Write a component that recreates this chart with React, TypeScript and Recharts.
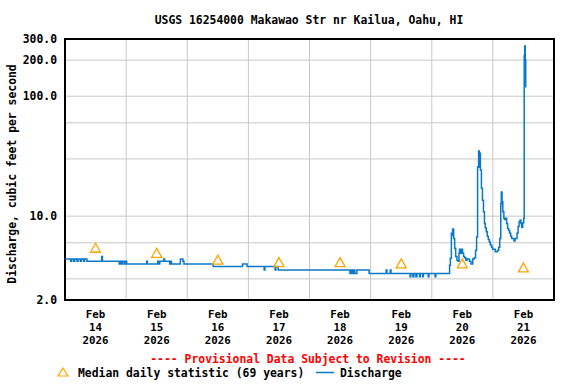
import {
  CartesianGrid,
  ComposedChart,
  Line,
  ReferenceArea,
  XAxis,
  YAxis,
} from 'recharts';

// hours after Feb 14 00:00 where the 15-min discharge changes, and the value (cfs) from that time
const hours = [
  0, 2.2, 2.6, 3.4, 3.8, 4.7, 5.1, 6.0, 6.4, 7.3, 7.7, 8.6, 14.4, 14.7,
  21.3, 21.6, 22.2, 22.5, 23.2, 23.6, 24.2, 32.1, 32.3, 36.4, 36.7, 37.2,
  38.8, 39.1, 41.1, 41.4, 41.8, 45.3, 46.3, 46.7, 58.2, 69.7, 71.5, 78.2,
  78.5, 82.5, 82.8, 83.7, 111.9, 112.3, 112.9, 113.2, 113.8, 114.6, 119.4,
  126.1, 126.4, 127.7, 128.0, 135.5, 135.8, 136.6, 137.0, 137.8, 138.2,
  139.2, 139.5, 140.4, 140.7, 142.6, 142.9, 145.3, 145.6,
  151.0, 151.3, 151.7, 151.9, 152.2, 152.6, 153.0, 153.4, 153.9, 154.3,
  154.7, 154.9, 155.3, 155.7, 156.1, 156.5, 156.9, 157.4, 157.8, 158.8,
  159.4, 160.1, 160.7, 161.2, 161.6, 162.0, 162.4, 162.7, 162.8, 163.1,
  163.5, 163.9, 164.3, 164.7, 165.0, 165.4, 165.8, 166.2, 166.6, 167.0,
  167.5, 167.9, 168.9, 169.8, 170.3, 170.7, 171.1, 171.3, 171.6, 171.9,
  172.3, 172.6, 173.0, 173.4, 173.8, 174.2, 174.6, 175.0, 175.4, 176.3,
  176.7, 177.5, 177.9, 178.3, 178.7, 179.0, 179.3, 179.7, 180.1, 180.3,
  180.5, 180.7, 180.9,
];
const cfs = [
  4.4, 4.2, 4.4, 4.2, 4.4, 4.2, 4.4, 4.2, 4.4, 4.2, 4.4, 4.2, 4.6, 4.2,
  4.0, 4.2, 4.0, 4.2, 4.0, 4.2, 4.0, 4.2, 4.0, 4.2, 4.0, 4.2,
  4.4, 4.2, 4.0, 4.2, 4.0, 4.4, 4.2, 4.0, 3.8, 4.0, 3.8, 3.56,
  3.8, 3.56, 3.8, 3.56, 3.33, 3.56, 3.33, 3.56, 3.33, 3.56, 3.33,
  3.56, 3.33, 3.56, 3.33, 3.13, 3.33, 3.13, 3.33, 3.13, 3.33,
  3.13, 3.33, 3.13, 3.33, 3.13, 3.33, 3.13, 3.33,
  3.9, 4.45, 7.2, 6.9, 7.8, 6.5, 5.4, 4.6, 4.3, 4.2,
  4.9, 5.3, 4.9, 5.3, 4.9, 4.6, 4.5, 4.3, 4.4, 4.2,
  4.0, 4.4, 4.5, 5.2, 6.7, 25.8, 34.9, 25.6, 33.4, 24.3,
  17.1, 13.6, 10.9, 8.7, 8.0, 7.4, 6.8, 6.4, 6.1, 5.76,
  5.5, 5.3, 5.05, 5.2, 5.5, 6.5, 12.7, 15.9, 13.2, 10.9,
  9.6, 9.4, 9.6, 8.7, 7.9, 7.6, 7.2, 6.8, 6.5, 6.2,
  6.5, 7.2, 8.2, 9.0, 9.3, 8.7, 8.1, 8.8, 9.6, 220,
  262, 200, 118,
];

// median daily statistic, plotted at noon
const medianHours = [12, 36, 60, 84, 108, 132, 156, 180];
const medianCfs = [5.4, 4.9, 4.3, 4.1, 4.1, 4.0, 4.0, 3.7];

const monthLabel = 'Feb';
const yearLabel = '2026';
const dayLabels = ['14', '15', '16', '17', '18', '19', '20', '21'];
const dayTicks = [12, 36, 60, 84, 108, 132, 156, 180];
const midnightLines = [24, 48, 72, 96, 120, 144, 168];

const yTicks = [2, 10, 100, 200, 300];
const yGrid = [3, 4, 5, 6, 7, 8, 9, 10, 20, 30, 40, 50, 60, 70, 80, 90, 100, 200];

const dischargeData = hours.map((h, i) => ({ h, cfs: cfs[i] }));
const medianData = medianHours.map((h, i) => ({ h, median: medianCfs[i] }));

const FONT = '"DejaVu Sans Mono", monospace';
const BLUE = '#0a78c8';
const ORANGE = '#ffa500';

function Triangle(props: any) {
  const { cx, cy } = props;
  if (cx == null || cy == null) return null;
  return (
    <path
      d={`M${cx},${cy - 5} L${cx + 5},${cy + 4} L${cx - 5},${cy + 4} Z`}
      fill="none"
      stroke={ORANGE}
      strokeWidth={1.3}
    />
  );
}

function DayTick(props: any) {
  const { x, y, index } = props;
  return (
    <text x={x} textAnchor="middle" fontFamily={FONT} fontWeight="bold" fontSize={10.8} fill="#000">
      <tspan x={x} y={y + 18}>{monthLabel}</tspan>
      <tspan x={x} y={y + 31}>{dayLabels[index]}</tspan>
      <tspan x={x} y={y + 44}>{yearLabel}</tspan>
    </text>
  );
}

export default function App() {
  return (
    <div style={{ position: 'absolute', left: 0, top: 0, width: 576, height: 384, background: '#fff' }}>
      <ComposedChart
        width={576}
        height={384}
        margin={{ top: 39, right: 22, bottom: 0, left: 0 }}
      >
        <CartesianGrid
          stroke="#c8c8c8"
          horizontalValues={yGrid}
          verticalValues={midnightLines}
        />
        <XAxis
          dataKey="h"
          type="number"
          domain={[0, 192]}
          ticks={dayTicks}
          allowDataOverflow
          height={84}
          axisLine={false}
          tickLine={false}
          tickSize={0}
          tickMargin={0}
          tick={<DayTick />}
        />
        <YAxis
          type="number"
          scale="log"
          domain={[2, 300]}
          ticks={yTicks}
          allowDataOverflow
          width={65}
          axisLine={false}
          tickLine={false}
          tickSize={0}
          tickMargin={8}
          tickFormatter={(v: number) => v.toFixed(1)}
          tick={{ fill: '#000', fontFamily: FONT, fontWeight: 'bold', fontSize: 11.4 }}
        />
        <Line
          data={dischargeData}
          dataKey="cfs"
          type="stepAfter"
          stroke={BLUE}
          strokeWidth={1.5}
          dot={false}
          isAnimationActive={false}
        />
        <Line
          data={medianData}
          dataKey="median"
          stroke="none"
          dot={<Triangle />}
          isAnimationActive={false}
        />
        <ReferenceArea
          x1={0}
          x2={192}
          y1={2}
          y2={300}
          fill="none"
          stroke="#000"
          strokeWidth={2}
          ifOverflow="visible"
        />
      </ComposedChart>
      <svg
        width={576}
        height={384}
        style={{ position: 'absolute', left: 0, top: 0, pointerEvents: 'none' }}
        fontFamily={FONT}
        fontWeight="bold"
        fontSize={11.4}
      >
        <text x={309} y={24} textAnchor="middle" fill="#000">
          USGS 16254000 Makawao Str nr Kailua, Oahu, HI
        </text>
        <text x={15.5} y={174} textAnchor="middle" fill="#000" transform="rotate(-90 15.5 174)">
          Discharge, cubic feet per second
        </text>
        <text x={308} y={362.5} textAnchor="middle" fill="#ff0000">
          ---- Provisional Data Subject to Revision ----
        </text>
        <path d="M63,368 L68,376 L58,376 Z" fill="none" stroke={ORANGE} strokeWidth={1.2} />
        <text x={78} y={376.5} fill="#000">Median daily statistic (69 years)</text>
        <line x1={316} x2={334} y1={372.5} y2={372.5} stroke={BLUE} strokeWidth={1.5} />
        <text x={340} y={376.5} fill="#000">Discharge</text>
      </svg>
    </div>
  );
}
